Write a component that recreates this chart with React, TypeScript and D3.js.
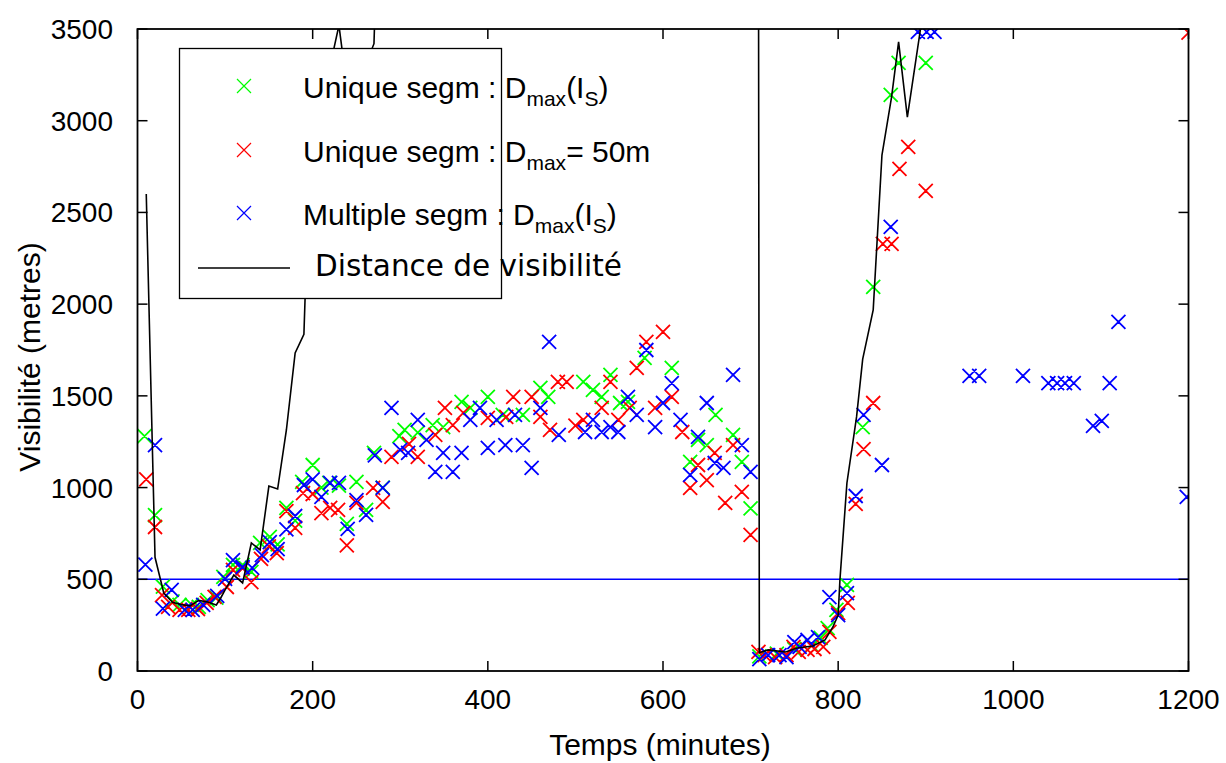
import React from 'react';
import * as d3 from 'd3';

type P = [number, number];

const xTicks = [0, 200, 400, 600, 800, 1000, 1200];
const yTicks = [0, 500, 1000, 1500, 2000, 2500, 3000, 3500];
const thresholdValue = 500;

const greenPoints: P[] = [
  [8, 1280], [20, 850], [29, 460], [40, 380], [48, 360], [62, 360], [70, 350], [80, 387], [90, 400],
  [98, 513], [109, 578], [120, 578], [130, 540], [140, 698], [151, 731], [160, 690], [170, 889],
  [180, 820], [188, 1031], [200, 1123], [210, 1000], [219, 1025], [230, 1010], [239, 802], [250, 1031],
  [261, 878], [270, 1189], [280, 1000], [299, 1281], [305, 1314], [320, 1300], [337, 1341], [349, 1330],
  [370, 1467], [380, 1434], [400, 1494], [417, 1396], [440, 1396], [460, 1543], [469, 1494], [509, 1576],
  [520, 1532], [530, 1494], [540, 1614], [551, 1461], [560, 1467], [579, 1707], [610, 1652], [631, 1140],
  [640, 1260], [650, 1232], [660, 1396], [680, 1287], [690, 1140], [700, 886],
  [710, 80], [730, 95], [750, 120], [770, 140], [780, 180], [788, 234], [798, 333], [810, 469],
  [828, 1330], [840, 2094], [860, 3141], [869, 3315], [900, 3315],
];

const redPoints: P[] = [
  [10, 1045], [20, 785], [28, 414], [35, 349], [48, 333], [58, 333], [69, 338], [79, 371], [88, 404],
  [102, 458], [109, 551], [120, 560], [130, 485], [141, 611], [150, 680], [159, 643], [170, 872],
  [180, 780], [189, 970], [200, 965], [210, 861], [220, 889], [229, 878], [239, 685], [250, 916],
  [269, 998], [280, 922], [290, 1167], [310, 1238], [320, 1167], [340, 1287], [351, 1434], [360, 1341],
  [372, 1407], [400, 1380], [421, 1385], [429, 1494], [450, 1494], [460, 1385], [471, 1314], [480, 1576],
  [490, 1576], [500, 1338], [509, 1369], [530, 1434], [540, 1576], [549, 1369], [562, 1434], [570, 1652],
  [581, 1794], [591, 1434], [600, 1849], [610, 1494], [622, 1303], [631, 998], [640, 1123], [650, 1041],
  [659, 1189], [671, 916], [680, 1232], [690, 976], [700, 742],
  [709, 104], [716, 87], [728, 76], [741, 87], [749, 131], [755, 104], [765, 115], [773, 120],
  [783, 131], [790, 213], [800, 316], [811, 371], [820, 911], [829, 1210], [840, 1461], [851, 2328],
  [861, 2328], [870, 2737], [880, 2857], [900, 2617], [1200, 3480],
];

const bluePoints: P[] = [
  [9, 580], [20, 1232], [29, 340], [39, 442], [54, 333], [63, 333], [75, 360], [91, 409], [100, 502],
  [109, 605], [120, 567], [131, 562], [142, 632], [151, 703], [160, 665], [170, 772], [180, 845],
  [190, 1014], [200, 1045], [210, 949], [220, 1025], [230, 1025], [240, 775], [250, 932], [261, 851],
  [271, 1175], [280, 998], [290, 1434], [300, 1205], [309, 1189], [320, 1369], [330, 1260], [340, 1085],
  [349, 1189], [360, 1085], [370, 1189], [380, 1369], [391, 1434], [400, 1216], [410, 1369], [420, 1232],
  [431, 1396], [440, 1232], [450, 1107], [460, 1434], [470, 1794], [481, 1287], [511, 1303], [520, 1369],
  [530, 1303], [540, 1330], [549, 1303], [560, 1494], [570, 1396], [581, 1750], [591, 1330], [600, 1461],
  [610, 1570], [620, 1369], [631, 1069], [640, 1276], [650, 1461], [659, 1134], [669, 1107], [680, 1614],
  [690, 1232], [700, 1085],
  [710, 65], [720, 87], [733, 87], [741, 76], [750, 158], [756, 131], [765, 169], [777, 185],
  [790, 403], [800, 305], [810, 425], [820, 954], [829, 1396], [850, 1123], [860, 2421], [891, 3484],
  [901, 3484], [910, 3484], [950, 1609], [961, 1609], [1011, 1609], [1040, 1570], [1050, 1570],
  [1059, 1570], [1069, 1570], [1091, 1336], [1101, 1363], [1110, 1570], [1120, 1903], [1198, 949],
];

const visibilityLine: P[] = [
  [10, 2600], [20, 620], [30, 425], [40, 375], [50, 362], [60, 355], [70, 385], [80, 376], [90, 360],
  [95, 398], [100, 442], [110, 523], [120, 480], [130, 698], [140, 660], [150, 1008], [160, 992],
  [170, 1314], [180, 1734], [190, 1835], [200, 3300], [210, 3200], [220, 3300], [230, 3520], [240, 3150],
  [250, 3150], [260, 3300], [270, 3420], [280, 5000], [700, 5000], [708, 8000], [710, 100], [720, 115],
  [740, 104], [753, 125], [771, 136], [785, 169], [794, 240], [800, 305], [802, 496], [810, 1025],
  [821, 1385], [828, 1700], [840, 1968], [850, 2813], [861, 3130], [869, 3430], [879, 3020], [894, 3500],
  [900, 4000], [1200, 5000],
];

const W = 1226;
const H = 763;
const M = { l: 137.5, r: 1188.5, t: 29, b: 671 };
const SANS = 'Liberation Sans, Arial, sans-serif';
const DEJAVU = 'DejaVu Sans, sans-serif';

const cross = (cx: number, cy: number, s: number) =>
  `M${cx - s},${cy - s}L${cx + s},${cy + s}M${cx - s},${cy + s}L${cx + s},${cy - s}`;

export default function App() {
  const x = d3.scaleLinear().domain([0, 1200]).range([M.l, M.r]);
  const y = d3.scaleLinear().domain([0, 3500]).range([M.b, M.t]);
  const line = d3.line<P>().x((d) => x(d[0])).y((d) => y(d[1]));

  const series: { pts: P[]; color: string }[] = [
    { pts: greenPoints, color: '#00ff00' },
    { pts: redPoints, color: '#ff0000' },
    { pts: bluePoints, color: '#0000ff' },
  ];

  const fs = 30;
  const tickFs = 28;

  return (
    <svg width={W} height={H} style={{ position: 'absolute', left: 0, top: 0, background: '#fff' }}>
      <defs>
        <clipPath id="plotClip">
          <rect x={M.l} y={M.t} width={M.r - M.l} height={M.b - M.t} />
        </clipPath>
      </defs>
      <rect x={0} y={0} width={W} height={H} fill="#fff" />
      <g clipPath="url(#plotClip)">
        <line x1={x(0)} x2={x(1200)} y1={y(thresholdValue)} y2={y(thresholdValue)} stroke="#0000ff" strokeWidth={1.4} />
        {series.map((s, i) => (
          <path
            key={i}
            d={s.pts.map((p) => cross(x(p[0]), y(p[1]), 7)).join('')}
            stroke={s.color}
            strokeWidth={1.8}
            fill="none"
          />
        ))}
        <path d={line(visibilityLine) || ''} stroke="#000" strokeWidth={1.6} fill="none" strokeLinejoin="miter" />
      </g>
      {yTicks.map((t) => (
        <g key={'y' + t}>
          <line x1={M.l} x2={M.l + 10} y1={y(t)} y2={y(t)} stroke="#000" strokeWidth={1.5} />
          <line x1={M.r} x2={M.r - 10} y1={y(t)} y2={y(t)} stroke="#000" strokeWidth={1.5} />
          <text x={113} y={y(t) + 10} textAnchor="end" fontFamily={SANS} fontSize={tickFs} fill="#000">
            {t}
          </text>
        </g>
      ))}
      {xTicks.map((t) => (
        <g key={'x' + t}>
          <line x1={x(t)} x2={x(t)} y1={M.b} y2={M.b - 10} stroke="#000" strokeWidth={1.5} />
          <line x1={x(t)} x2={x(t)} y1={M.t} y2={M.t + 10} stroke="#000" strokeWidth={1.5} />
          <text x={x(t)} y={709} textAnchor="middle" fontFamily={SANS} fontSize={tickFs} fill="#000">
            {t}
          </text>
        </g>
      ))}
      <rect x={M.l} y={M.t} width={M.r - M.l} height={M.b - M.t} fill="none" stroke="#000" strokeWidth={1.8} />
      <text x={660} y={755} textAnchor="middle" fontFamily={SANS} fontSize={fs} fill="#000">
        Temps (minutes)
      </text>
      <text
        transform={`translate(40,357) rotate(-90)`}
        textAnchor="middle"
        fontFamily={SANS}
        fontSize={fs}
        fill="#000"
      >
        Visibilité (metres)
      </text>
      <rect x={179.5} y={48.5} width={322} height={250} fill="#fff" stroke="#000" strokeWidth={1.3} />
      <path d={cross(244, 86, 7)} stroke="#00ff00" strokeWidth={1.2} fill="none" />
      <path d={cross(244, 150, 7)} stroke="#ff0000" strokeWidth={1.2} fill="none" />
      <path d={cross(244, 213, 7)} stroke="#0000ff" strokeWidth={1.2} fill="none" />
      <line x1={198} x2={290} y1={268} y2={268} stroke="#000" strokeWidth={1.3} />
      <text x={303} y={98} fontFamily={SANS} fontSize={fs} fill="#000">
        Unique segm : D
        <tspan fontSize={fs * 0.7} dy={8}>max</tspan>
        <tspan fontSize={fs} dy={-8}>(I</tspan>
        <tspan fontSize={fs * 0.7} dy={8}>S</tspan>
        <tspan fontSize={fs} dy={-8}>)</tspan>
      </text>
      <text x={303} y={162} fontFamily={SANS} fontSize={fs} fill="#000">
        Unique segm : D
        <tspan fontSize={fs * 0.7} dy={8}>max</tspan>
        <tspan fontSize={fs} dy={-8}>= 50m</tspan>
      </text>
      <text x={303} y={225} fontFamily={SANS} fontSize={fs} fill="#000">
        Multiple segm : D
        <tspan fontSize={fs * 0.7} dy={8}>max</tspan>
        <tspan fontSize={fs} dy={-8}>(I</tspan>
        <tspan fontSize={fs * 0.7} dy={8}>S</tspan>
        <tspan fontSize={fs} dy={-8}>)</tspan>
      </text>
      <text x={315} y={276} fontFamily={DEJAVU} fontSize={29.5} fill="#000">
        Distance de visibilité
      </text>
    </svg>
  );
}
